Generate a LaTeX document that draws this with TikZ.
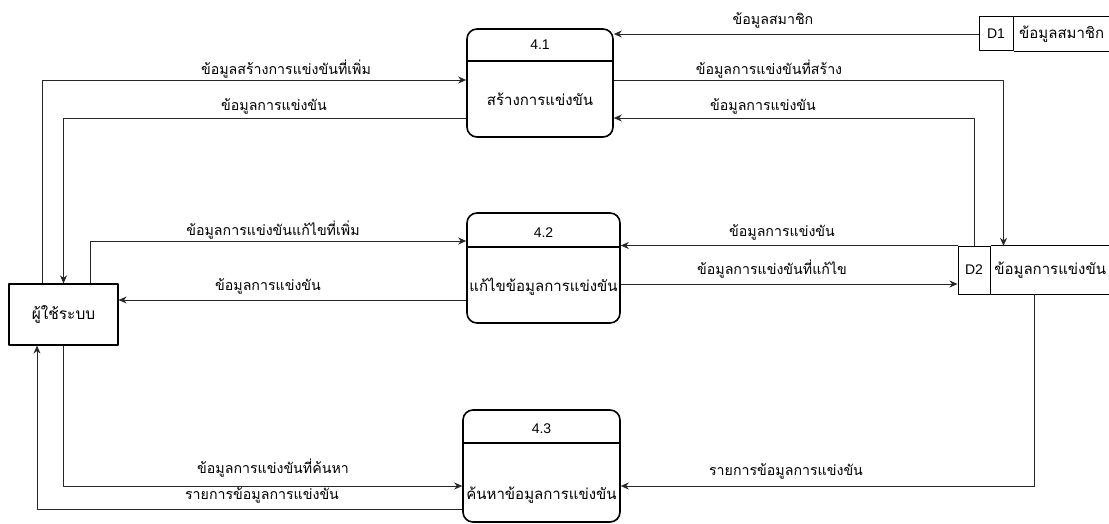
\documentclass[tikz,border=0pt]{standalone}
\usepackage{fontspec}
\setmainfont{Liberation Sans}
\newfontfamily\thaifont[Script=Thai]{Loma}
\usetikzlibrary{arrows.meta}
\begin{document}
\begin{tikzpicture}[>={Stealth[length=8pt,width=7pt]}, x=1pt, y=-1pt, line join=round,
    flow/.style={->, line width=0.9pt, draw=black!85},
    proc/.style={draw, line width=1.6pt, rounded corners=10pt},
    divider/.style={line width=1.6pt},
    num/.style={font=\fontsize{14}{16}\selectfont, inner sep=0pt},
    pname/.style={font=\thaifont\fontsize{15}{17}\selectfont, inner sep=0pt},
    lbl/.style={font=\thaifont\fontsize{14.2}{16}\selectfont, inner sep=0pt},
    store/.style={line width=1pt},
    dcell/.style={draw, line width=1pt, inner sep=0pt, font=\fontsize{14}{16}\selectfont},
    dname/.style={inner sep=0pt, font=\thaifont\fontsize{15}{17}\selectfont}]
  \useasboundingbox (0,0) rectangle (1109,524);
  % processes
  \node[proc, minimum width=146pt, minimum height=108pt] (p1) at (540,83) {};
  \draw[divider] (p1.west |- 0,61) -- (p1.east |- 0,61);
  \node[num] (p1num) at (540,45) {4.1};
  \node[pname] (p1txt) at (540,99) {สร้างการแข่งขัน};
  \node[proc, minimum width=153pt, minimum height=110pt] (p2) at (543.5,268) {};
  \draw[divider] (p2.west |- 0,247) -- (p2.east |- 0,247);
  \node[num] (p2num) at (543.5,233) {4.2};
  \node[pname] (p2txt) at (543.5,287) {แก้ไขข้อมูลการแข่งขัน};
  \node[proc, minimum width=157pt, minimum height=112pt] (p3) at (541.5,466) {};
  \draw[divider] (p3.west |- 0,443) -- (p3.east |- 0,443);
  \node[num] (p3num) at (541.5,429) {4.3};
  \node[pname] (p3txt) at (541.5,495) {ค้นหาข้อมูลการแข่งขัน};
  % external entity
  \node[draw, line width=1.2pt, minimum width=109pt, minimum height=61pt, font=\thaifont\fontsize{15.5}{17}\selectfont] (u) at (63.5,314.5) {ผู้ใช้ระบบ};
  % data stores
  \node[dcell, minimum width=34pt, minimum height=34pt] (d1) at (996,34) {D1};
  \node[dname, minimum width=96pt, minimum height=34pt, anchor=west] (d1n) at (d1.east) {ข้อมูลสมาชิก};
  \draw[store] (d1n.north west) -- (d1n.north east) (d1n.south west) -- (d1n.south east);
  \node[dcell, minimum width=32pt, minimum height=48pt] (d2) at (974,270) {D2};
  \node[dname, minimum width=119pt, minimum height=48pt, anchor=west] (d2n) at (d2.east) {ข้อมูลการแข่งขัน};
  \draw[store] (d2n.north west) -- (d2n.north east) (d2n.south west) -- (d2n.south east);
  % flows
  \draw[flow] (d1.west) -- (d1.west -| p1.east);
  \draw[flow] ([xshift=-21.5pt]u.north) |- ([yshift=3pt]p1.west);
  \draw[flow] ([yshift=-35pt]p1.west) -| (u.north);
  \draw[flow] ([yshift=3pt]p1.east) -| ([xshift=13pt]d2n.north west);
  \draw[flow] (d2.north) |- ([yshift=-35pt]p1.east);
  \draw[flow] ([xshift=26.5pt]u.north) |- ([yshift=27pt]p2.west);
  \draw[flow] ([yshift=-32pt]p2.west) -- ([yshift=-32pt]p2.west -| u.east);
  \draw[flow] (d2.north west) -- (d2.north west -| p2.east);
  \draw[flow] ([yshift=-16pt]p2.east) -- ([yshift=-16pt]p2.east -| d2.west);
  \draw[flow] (u.south) |- ([yshift=-20pt]p3.west);
  \draw[flow] ([yshift=-43pt]p3.west) -| ([xshift=-26.5pt]u.south);
  \draw[flow] ([xshift=44pt]d2n.south west) |- ([yshift=-20pt]p3.east);
  % flow labels
  \node[lbl] (l1) at (773,20) {ข้อมูลสมาชิก};
  \node[lbl] (l2) at (286,69) {ข้อมูลสร้างการแข่งขันที่เพิ่ม};
  \node[lbl] (l3) at (274,106) {ข้อมูลการแข่งขัน};
  \node[lbl] (l4) at (769,69) {ข้อมูลการแข่งขันที่สร้าง};
  \node[lbl] (l5) at (763,106) {ข้อมูลการแข่งขัน};
  \node[lbl] (l6) at (273,230) {ข้อมูลการแข่งขันแก้ไขที่เพิ่ม};
  \node[lbl] (l7) at (268,286) {ข้อมูลการแข่งขัน};
  \node[lbl] (l8) at (782,232) {ข้อมูลการแข่งขัน};
  \node[lbl] (l9) at (772,269) {ข้อมูลการแข่งขันที่แก้ไข};
  \node[lbl] (l10) at (273,468) {ข้อมูลการแข่งขันที่ค้นหา};
  \node[lbl] (l11) at (262,495) {รายการข้อมูลการแข่งขัน};
  \node[lbl] (l12) at (786,471) {รายการข้อมูลการแข่งขัน};
\end{tikzpicture}
\end{document}
